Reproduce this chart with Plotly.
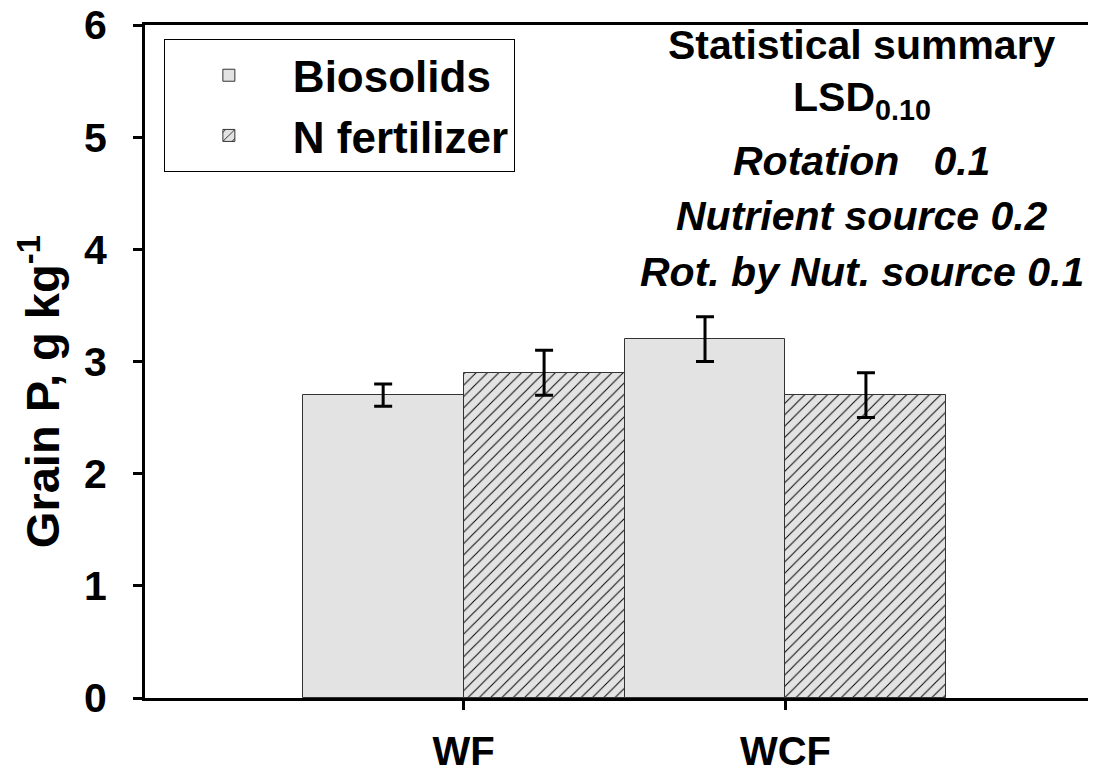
import plotly.graph_objects as go

categories = ["WF", "WCF"]
biosolids = [2.7, 3.2]
biosolids_err = [0.1, 0.2]
n_fert = [2.9, 2.7]
n_fert_err = [0.2, 0.2]
y_ticks = [0, 1, 2, 3, 4, 5, 6]

summary_lines = [
    ("<b>Statistical summary</b>", 5.82),
    ("<b>LSD<sub>0.10</sub></b>", 5.33),
    ("<b><i>Rotation\u00a0\u00a0\u00a00.1</i></b>", 4.79),
    ("<b><i>Nutrient source 0.2</i></b>", 4.30),
    ("<b><i>Rot. by Nut. source 0.1</i></b>", 3.80),
]

FONT = "Arial, Liberation Sans, sans-serif"

fig = go.Figure()
fig.add_trace(go.Bar(
    x=categories, y=biosolids, name="<b>Biosolids</b>",
    marker=dict(color="#e3e3e3", line=dict(color="#333", width=1)),
    error_y=dict(type="data", array=biosolids_err, color="black", thickness=3, width=9),
))
fig.add_trace(go.Bar(
    x=categories, y=n_fert, name="<b>N fertilizer</b>",
    marker=dict(color="#e3e3e3", line=dict(color="#333", width=1),
                pattern=dict(shape="/", fgcolor="black", bgcolor="#e3e3e3",
                             size=8, solidity=0.12, fillmode="replace")),
    error_y=dict(type="data", array=n_fert_err, color="black", thickness=3, width=9),
))

for text, yv in summary_lines:
    fig.add_annotation(x=0.76, xref="paper", y=yv, yref="y", text=text,
                       showarrow=False, font=dict(size=41, color="black", family=FONT),
                       xanchor="center", yanchor="middle")

fig.add_annotation(x=-0.112, xref="paper", y=0.455, yref="paper",
                   text="<b>Grain P, g kg<sup>-1</sup></b>", textangle=-90,
                   showarrow=False, font=dict(size=47, color="black", family=FONT),
                   xanchor="center", yanchor="middle")

fig.update_layout(
    width=1095, height=775,
    margin=dict(l=145, r=7, t=25, b=77, autoexpand=False),
    paper_bgcolor="white", plot_bgcolor="white",
    font=dict(family=FONT, color="black"),
    barmode="group", bargap=0, bargroupgap=0,
    legend=dict(x=0.02, y=0.979, xanchor="left", yanchor="top",
                bgcolor="white", bordercolor="black", borderwidth=1,
                itemwidth=118,
                font=dict(size=44, family=FONT, color="black")),
    xaxis=dict(type="category", range=[-0.99, 1.94], showline=True, linecolor="black",
               linewidth=3, mirror=True, ticks="outside", ticklen=9, tickwidth=3,
               tickcolor="black", showgrid=False, zeroline=False, automargin=False,
               tickfont=dict(size=40, family=FONT, color="black"),
               ticklabelstandoff=7,
               tickvals=categories, ticktext=["<b>%s</b>" % c for c in categories]),
    yaxis=dict(range=[0, 6], showline=True, linecolor="black", linewidth=3,
               ticks="outside", ticklen=9, tickwidth=3, tickcolor="black",
               showgrid=False, zeroline=False, automargin=False,
               tickvals=y_ticks,
               ticktext=["<b>%d</b>" % v for v in y_ticks],
               tickfont=dict(size=41, family=FONT, color="black"),
               ticklabelstandoff=18),
)

fig.write_html("out.html", config={"displayModeBar": False},
               post_script="document.body.style.margin='0';")
